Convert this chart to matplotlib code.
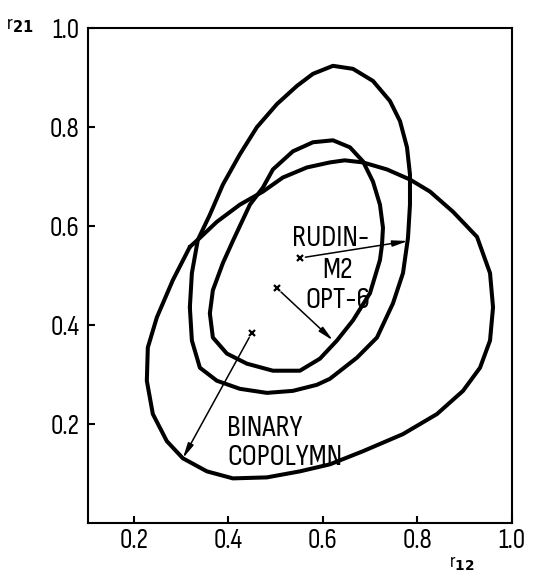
import matplotlib
matplotlib.use("Agg")
import matplotlib.pyplot as plt

plt.rcParams['font.family'] = ['Sofia Sans Condensed', 'Liberation Sans', 'DejaVu Sans']

# contur "binary copolymn" (r12, r21)
bin_x = [0.3185, 0.3397, 0.3757, 0.4243, 0.4730, 0.5153, 0.5661, 0.6148, 0.646, 0.6847,
         0.7354, 0.7841, 0.8265, 0.8751, 0.9259, 0.9534, 0.9598, 0.9534, 0.9323, 0.8963,
         0.8413, 0.7693, 0.6847, 0.6148, 0.5513, 0.4815, 0.4095, 0.3545, 0.3037, 0.2698,
         0.2402, 0.2275, 0.2296, 0.2487, 0.2825, 0.3185]
bin_y = [0.5580, 0.5763, 0.6088, 0.6434, 0.6698, 0.6983, 0.7186, 0.7288, 0.733, 0.7288,
         0.7146, 0.6942, 0.6698, 0.6291, 0.5783, 0.5051, 0.4359, 0.3688, 0.3139, 0.2671,
         0.2203, 0.1797, 0.1451, 0.1186, 0.1044, 0.0922, 0.0902, 0.1044, 0.1308, 0.1654,
         0.2203, 0.2875, 0.3546, 0.4156, 0.4908, 0.5580]

# contur "rudin-m2" (cel inalt)
rud_x = [0.3185, 0.3228, 0.3354, 0.3608, 0.3884, 0.4243, 0.4603, 0.5027, 0.5450, 0.5788,
         0.6212, 0.6635, 0.7058, 0.7418, 0.7630, 0.7778, 0.7841, 0.7841, 0.7799, 0.7693,
         0.7482, 0.7143, 0.6720, 0.6148, 0.5873, 0.5365, 0.4815, 0.4243, 0.3757, 0.3397,
         0.3228, 0.3185]
rud_y = [0.4359, 0.5051, 0.5722, 0.6230, 0.6840, 0.7451, 0.8000, 0.8467, 0.8834, 0.9078,
         0.9240, 0.9179, 0.8935, 0.8528, 0.8122, 0.7593, 0.7044, 0.6434, 0.5763, 0.5051,
         0.4441, 0.3749, 0.3342, 0.2915, 0.2793, 0.2671, 0.2630, 0.2712, 0.2875, 0.3139,
         0.3688, 0.4359]

# contur "opt-6" (cel mic)
opt_x = [0.3608, 0.3672, 0.3884, 0.4095, 0.4455, 0.4730, 0.4942, 0.5365, 0.5788, 0.6212,
         0.6571, 0.6847, 0.7058, 0.7206, 0.7270, 0.7249, 0.7206, 0.6995, 0.6635, 0.6296,
         0.5937, 0.5513, 0.4942, 0.4392, 0.3968, 0.3672, 0.3608]
opt_y = [0.4237, 0.4705, 0.5254, 0.5701, 0.6434, 0.6779, 0.7146, 0.7512, 0.7695, 0.7735,
         0.7593, 0.7308, 0.6901, 0.6434, 0.5966, 0.5620, 0.5315, 0.4644, 0.4095, 0.3688,
         0.3322, 0.3078, 0.3078, 0.3220, 0.3424, 0.3749, 0.4237]

# centre (x) si capetele sagetilor
centre = {"RUDIN": (0.5513, 0.5355), "OPT": (0.5027, 0.4746), "BINARY": (0.4497, 0.3847)}
capete = {"RUDIN": (0.7799, 0.5700), "OPT": (0.6212, 0.3690), "BINARY": (0.3037, 0.1308)}

fig = plt.figure(figsize=(5.43, 5.76), dpi=100)
ax = fig.add_axes([0.162, 0.092, 0.781, 0.859])

for xs, ys in [(bin_x, bin_y), (rud_x, rud_y), (opt_x, opt_y)]:
    ax.plot(xs, ys, color='black', lw=2.9, solid_joinstyle='round', solid_capstyle='round')

for k in centre:
    cx, cy = centre[k]
    ax.plot(cx, cy, marker='x', color='black', ms=5, mew=1.6)
    ax.annotate("", xy=capete[k], xytext=(cx, cy),
                arrowprops=dict(arrowstyle='-|>,head_length=0.9,head_width=0.18',
                                color='black', lw=1.1, shrinkA=4, shrinkB=0))

txt = dict(fontsize=22, color='black', ha='left', va='center')
ax.text(0.534, 0.576, "RUDIN-", **txt)
ax.text(0.598, 0.511, "M2", **txt)
ax.text(0.562, 0.450, "OPT-6", **txt)
ax.text(0.397, 0.190, "BINARY", **txt)
ax.text(0.397, 0.133, "COPOLYMN", **txt)

ax.set_xlim(0.103, 1.0)
ax.set_ylim(0.0, 1.0)
ax.set_xticks([0.2, 0.4, 0.6, 0.8, 1.0])
ax.set_yticks([0.2, 0.4, 0.6, 0.8, 1.0])
ax.set_xticklabels(["0.2", "0.4", "0.6", "0.8", "1.0"])
ax.set_yticklabels(["0.2", "0.4", "0.6", "0.8", "1.0"])
ax.tick_params(direction='in', length=5, width=1.5, labelsize=20)
ax.tick_params(axis='y', pad=6)
ax.tick_params(axis='x', pad=4)
for s in ax.spines.values():
    s.set_linewidth(1.5)

fig.text(0.037, 0.954, "r$_{\\mathbf{21}}$", fontsize=15, fontweight='bold', ha='center', va='center')
fig.text(0.851, 0.020, "r$_{\\mathbf{12}}$", fontsize=14, fontweight='bold', ha='center', va='center')

fig.savefig("out.png", dpi=100)
